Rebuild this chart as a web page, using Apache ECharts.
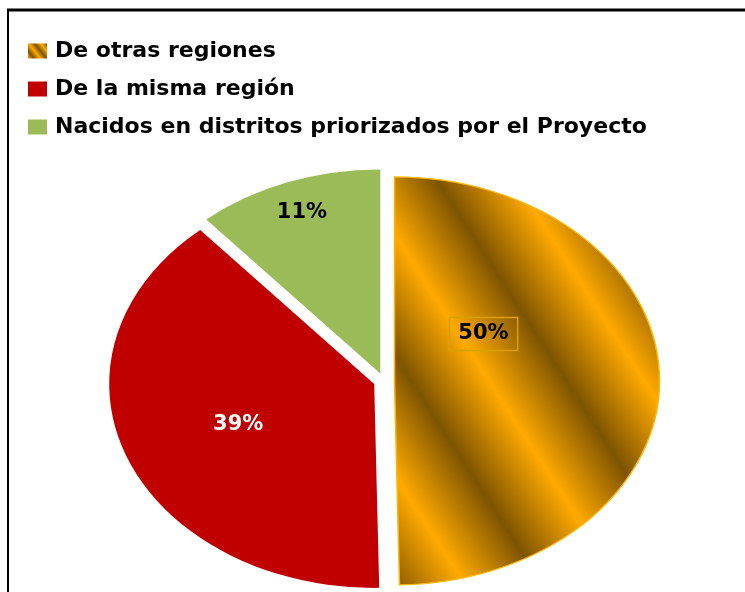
<!DOCTYPE html>
<html><head><meta charset="utf-8">
<script src="https://cdn.jsdelivr.net/npm/echarts@6/dist/echarts.min.js"></script>
<style>html,body{margin:0;padding:0;background:#fff}#c{width:745px;height:592px}</style>
</head><body><div id="c"></div>
<script>
// ---- data ----
const categories = ['De otras regiones', 'De la misma región', 'Nacidos en distritos priorizados por el Proyecto'];
const values = [49.7, 38.9, 11.4];
const sliceColors = ['gold', '#C00000', '#9BBB59'];

// ---- layout / style ----
const CX = 384, CY = 381, RX = 265, RY = 204, EXPLODE = 10.5;
const S = RY / RX;
const FONT = 'bold 21px "DejaVu Sans", sans-serif';
// label placement per slice: fraction of radius, optional angle (deg from top, clockwise)
const labelPlace = [{frac: 0.407, angle: 55.6, box: true, color: '#000'}, {frac: 0.55, color: '#fff'}, {frac: 0.844, color: '#000'}];

const BRIGHT = '#FFAA00', DARK = '#7E5400';
function goldGradient() {
  // stripes in sector-local coords (y scaled by S on screen)
  const gx = 2.013, gy = -1, gl = Math.hypot(gx, gy);
  const ux = gx / gl, uy = gy / gl;
  const P0 = -140, P1 = 380, period = 139, darkPhase = 15;
  const stops = [];
  const colorAt = p => {
    let ph = ((p - darkPhase) % period + period) % period / period; // 0 dark, .5 bright
    const t = ph < 0.5 ? ph * 2 : (1 - ph) * 2;
    const a = [0x7E, 0x54, 0x00], b = [0xFF, 0xAA, 0x00];
    const c = a.map((v, i) => Math.round(v + (b[i] - v) * t));
    return 'rgb(' + c.join(',') + ')';
  };
  const pts = [P0];
  for (let p = darkPhase - 2 * period; p < P1; p += period / 2) if (p > P0) pts.push(p);
  pts.push(P1);
  pts.forEach(p => stops.push({offset: (p - P0) / (P1 - P0), color: colorAt(p)}));
  return new echarts.graphic.LinearGradient(P0 * ux, P0 * uy, P1 * ux, P1 * uy, stops, true);
}
const legendGold = new echarts.graphic.LinearGradient(0, 1, 1, 0, [
  {offset: 0, color: BRIGHT}, {offset: 0.2, color: DARK}, {offset: 0.4, color: BRIGHT},
  {offset: 0.6, color: DARK}, {offset: 0.8, color: BRIGHT}, {offset: 1, color: DARK}]);

const total = values.reduce((a, b) => a + b, 0);

function makeRender(i) {
  return function (params, api) {
    let before = 0;
    for (let k = 0; k < i; k++) before += values[k];
    const v = api.value(0);
    const a0 = -Math.PI / 2 + before / total * 2 * Math.PI;
    const a1 = a0 + v / total * 2 * Math.PI;
    const mid = (a0 + a1) / 2;
    const ox = CX + EXPLODE * Math.cos(mid);
    const oy = CY + EXPLODE * Math.sin(mid) * S;
    const lp = labelPlace[i];
    const la = lp.angle !== undefined ? (lp.angle * Math.PI / 180 - Math.PI / 2) : mid;
    const lx = ox + lp.frac * RX * Math.cos(la);
    const ly = oy + lp.frac * RY * Math.sin(la);
    const fill = i === 0 ? goldGradient() : sliceColors[i];
    const textStyle = {
      text: Math.round(v / total * 100) + '%', font: FONT, fill: lp.color,
      align: 'center', verticalAlign: 'middle'
    };
    if (lp.box) Object.assign(textStyle, {borderColor: '#D9A000', borderWidth: 1.5, padding: [6, 9, 6, 9]});
    return {
      type: 'group',
      children: [
        {type: 'sector', x: ox, y: oy, scaleY: S,
          shape: {cx: 0, cy: 0, r: RX, r0: 0, startAngle: a0, endAngle: a1, clockwise: true},
          style: {fill: fill, stroke: i === 0 ? '#FFB800' : null, lineWidth: 1.5, strokeNoScale: true}},
        {type: 'text', x: lx, y: ly, style: textStyle, z2: 10}
      ]
    };
  };
}

const chart = echarts.init(document.getElementById('c'), null, {renderer: 'canvas'});
chart.setOption({
  animation: false,
  backgroundColor: '#fff',
  legend: {
    orient: 'vertical', left: 28, top: 39, padding: 0,
    itemWidth: 19, itemHeight: 15, itemGap: 14, icon: 'rect',
    textStyle: {fontFamily: '"DejaVu Sans", sans-serif', fontWeight: 'bold', fontSize: 22, color: '#000', lineHeight: 24, padding: [0, 0, 0, 3]},
    data: categories.map((c, i) => ({name: c, itemStyle: {color: i === 0 ? legendGold : sliceColors[i]}}))
  },
  graphic: [
    {type: 'line', shape: {x1: 7, y1: 10, x2: 745, y2: 10}, style: {stroke: '#000', lineWidth: 3}},
    {type: 'line', shape: {x1: 8, y1: 9, x2: 8, y2: 592}, style: {stroke: '#000', lineWidth: 2}}
  ],
  series: categories.map((c, i) => ({
    type: 'custom', name: c, coordinateSystem: 'none',
    itemStyle: {color: i === 0 ? BRIGHT : sliceColors[i]},
    renderItem: makeRender(i),
    data: [[values[i]]]
  }))
});
</script></body></html>
